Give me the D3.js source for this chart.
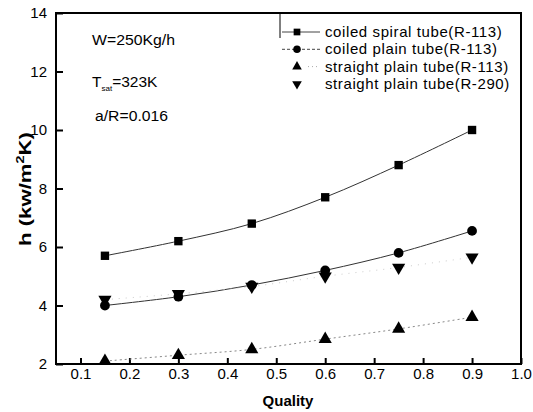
<!DOCTYPE html>
<html>
<head>
<meta charset="utf-8">
<script src="https://cdn.jsdelivr.net/npm/d3@7"></script>
<style>
  body { margin: 0; background: #fff; }
  svg { display: block; font-family: "Liberation Sans", Arial, Helvetica, sans-serif; }
</style>
</head>
<body>
<div id="chart"></div>
<script>
// Chart size
const width = 533;
const height = 412;

// Data
const quality = [0.15, 0.3, 0.45, 0.6, 0.75, 0.9];
const coiledSpiral = [5.7, 6.2, 6.8, 7.7, 8.8, 10.0];
const coiledPlain = [4.0, 4.3, 4.7, 5.2, 5.8, 6.55];
const straightR113 = [2.1, 2.3, 2.5, 2.85, 3.2, 3.6];
const straightR290 = [4.2, 4.4, 4.65, 5.0, 5.3, 5.65];

const xTicks = [0.1, 0.2, 0.3, 0.4, 0.5, 0.6, 0.7, 0.8, 0.9, 1.0];
const yTicks = [2, 4, 6, 8, 10, 12, 14];

const seriesNames = [
  "coiled spiral tube(R-113)",
  "coiled plain tube(R-113)",
  "straight plain tube(R-113)",
  "straight plain tube(R-290)"
];

const svg = d3.select("#chart").append("svg")
  .attr("width", width)
  .attr("height", height);

// Scales
const x = d3.scaleLinear().domain([0.05, 1.0]).range([56, 521]);
const y = d3.scaleLinear().domain([2, 14]).range([364, 13]);

// Axes (ticks point inward)
const xAxis = svg.append("g")
  .attr("transform", `translate(0,${y(2)})`)
  .call(d3.axisBottom(x).tickValues(xTicks).tickSize(-6).tickPadding(4)
    .tickFormat(d3.format(".1f")));

const yAxis = svg.append("g")
  .attr("transform", `translate(${x(0.05)},0)`)
  .call(d3.axisLeft(y).tickValues(yTicks).tickSize(-7).tickPadding(9));

[xAxis, yAxis].forEach(g => {
  g.select(".domain").remove();
  g.selectAll(".tick line").attr("stroke", "#000").attr("stroke-width", 2);
  g.selectAll(".tick text")
    .attr("fill", "#000")
    .style("font-size", "15px")
    .style("font-family", "'Liberation Sans', Arial, sans-serif");
});

// Frame
svg.append("rect")
  .attr("x", x(0.05))
  .attr("y", y(14))
  .attr("width", x(1.0) - x(0.05))
  .attr("height", y(2) - y(14))
  .attr("fill", "none")
  .attr("stroke", "#000")
  .attr("stroke-width", 2);

// Axis titles
svg.append("text")
  .attr("x", 288)
  .attr("y", 406)
  .attr("text-anchor", "middle")
  .style("font-size", "15px")
  .style("font-weight", "bold")
  .text("Quality");

const yTitle = svg.append("text")
  .attr("transform", `translate(31,189) rotate(-90)`)
  .attr("text-anchor", "middle")
  .style("font-size", "17px")
  .style("font-weight", "bold")
  .attr("textLength", 114)
  .attr("lengthAdjust", "spacingAndGlyphs");
yTitle.append("tspan").text("h (kw/m");
yTitle.append("tspan").attr("dy", -7).style("font-size", "11px").text("2");
yTitle.append("tspan").attr("dy", 7).text("K)");

// Condition notes
svg.append("text").attr("x", 92).attr("y", 45)
  .style("font-size", "15.5px")
  .attr("textLength", 83).attr("lengthAdjust", "spacingAndGlyphs")
  .text("W=250Kg/h");

const tsat = svg.append("text").attr("x", 92).attr("y", 87)
  .style("font-size", "15.5px");
tsat.append("tspan").text("T");
tsat.append("tspan").attr("dy", 4).style("font-size", "8px").text("sat");
tsat.append("tspan").attr("dy", -4).text("=323K");

svg.append("text").attr("x", 95).attr("y", 121)
  .style("font-size", "15.5px")
  .attr("textLength", 73).attr("lengthAdjust", "spacingAndGlyphs")
  .text("a/R=0.016");

// Curves
const line = d3.line()
  .x((d, i) => x(quality[i]))
  .y(d => y(d))
  .curve(d3.curveCatmullRom);

const styles = [
  { values: coiledSpiral, symbol: d3.symbolSquare, size: 70, stroke: "#333", dash: null, sw: 1 },
  { values: coiledPlain, symbol: d3.symbolCircle, size: 75, stroke: "#333", dash: null, sw: 1 },
  { values: straightR113, symbol: d3.symbolTriangle, size: 75, stroke: "#888", dash: "2,3", sw: 1 },
  { values: straightR290, symbol: d3.symbolTriangle, size: 75, stroke: "#ccc", dash: "1,6", sw: 1, flip: true }
];

styles.forEach(s => {
  svg.append("path")
    .datum(s.values)
    .attr("d", line)
    .attr("fill", "none")
    .attr("stroke", s.stroke)
    .attr("stroke-width", s.sw)
    .attr("stroke-dasharray", s.dash);
});

styles.forEach(s => {
  svg.append("g").selectAll("path")
    .data(s.values)
    .join("path")
    .attr("d", d3.symbol(s.symbol, s.size))
    .attr("transform", (d, i) => `translate(${x(quality[i])},${y(d)})${s.flip ? " rotate(180)" : ""}`)
    .attr("fill", "#000");
});

// Legend
const legendY = [37, 54.3, 71.6, 88.9];
const legend = svg.append("g");

legend.append("line")
  .attr("x1", 280).attr("x2", 280)
  .attr("y1", 13).attr("y2", 38)
  .attr("stroke", "#000").attr("stroke-width", 1);

seriesNames.forEach((name, i) => {
  const s = styles[i];
  const cy = legendY[i] - 5;
  if (i < 2) {
    legend.append("line")
      .attr("x1", 282).attr("x2", 320)
      .attr("y1", cy).attr("y2", cy)
      .attr("stroke", "#444").attr("stroke-width", 1)
      .attr("stroke-dasharray", i === 1 ? "3,2" : null);
  } else if (i === 2) {
    legend.append("line")
      .attr("x1", 308).attr("x2", 318)
      .attr("y1", cy).attr("y2", cy)
      .attr("stroke", "#aaa").attr("stroke-dasharray", "1,3");
  }
  legend.append("path")
    .attr("d", d3.symbol(s.symbol, i < 2 ? 45 : 40))
    .attr("transform", `translate(297,${cy})${s.flip ? " rotate(180)" : ""}`)
    .attr("fill", "#000");
  legend.append("text")
    .attr("x", 325)
    .attr("y", legendY[i])
    .style("font-size", "15px")
    .style("letter-spacing", "0.6px")
    .text(name);
});
</script>
</body>
</html>
